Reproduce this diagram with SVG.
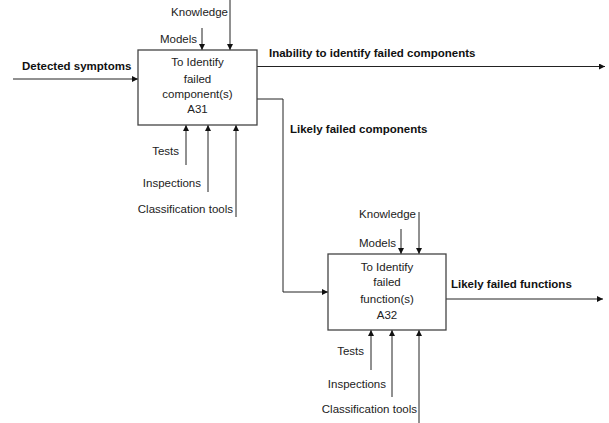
<svg xmlns="http://www.w3.org/2000/svg" width="609" height="423" viewBox="0 0 609 423">
<defs>
<marker id="ah" markerWidth="6" markerHeight="6" refX="6" refY="3" orient="auto" markerUnits="userSpaceOnUse">
<path d="M0,0 L6,3 L0,6 Z" fill="#111"/>
</marker>
</defs>
<style>
.box{fill:#fff;stroke:#444;stroke-width:1.3}
.t{font-family:"Liberation Sans",Arial,sans-serif;font-size:11.5px;fill:#222}
.b{font-family:"Liberation Sans",Arial,sans-serif;font-size:11.5px;font-weight:bold;fill:#111}
.c{text-anchor:middle}
.e{text-anchor:end}
.ln{fill:none;stroke:#222;stroke-width:1}
.la{fill:none;stroke:#222;stroke-width:1;marker-end:url(#ah)}
</style>
<rect width="609" height="423" fill="#fff"/>
<g id="connectors">
<line class="la" x1="13" y1="79" x2="138" y2="79"/>
<line class="la" x1="230" y1="0" x2="230" y2="50"/>
<line class="la" x1="202" y1="28" x2="202" y2="50"/>
<line class="la" x1="186" y1="165" x2="186" y2="125"/>
<line class="la" x1="208" y1="192" x2="208" y2="125"/>
<line class="la" x1="236" y1="217" x2="236" y2="125"/>
<line class="la" x1="257" y1="66.5" x2="605" y2="66.5"/>
<polyline class="la" points="257,99 283,99 283,292 328,292"/>
<line class="la" x1="419" y1="212" x2="419" y2="254"/>
<line class="la" x1="401" y1="229" x2="401" y2="254"/>
<line class="la" x1="371" y1="370" x2="371" y2="330"/>
<line class="la" x1="392" y1="397" x2="392" y2="330"/>
<line class="la" x1="419" y1="423" x2="419" y2="330"/>
<line class="la" x1="446" y1="299" x2="603" y2="299"/>
</g>
<g id="labels">
<text class="b" x="22" y="70">Detected symptoms</text>
<text class="t e" x="228" y="16">Knowledge</text>
<text class="t e" x="197" y="43">Models</text>
<text class="t e" x="179" y="155">Tests</text>
<text class="t e" x="201" y="187">Inspections</text>
<text class="t e" x="233" y="213">Classification tools</text>
<text class="b" x="269" y="57">Inability to identify failed components</text>
<text class="b" x="290" y="133">Likely failed components</text>
<text class="t e" x="416" y="218">Knowledge</text>
<text class="t e" x="396" y="247">Models</text>
<text class="t e" x="364" y="355">Tests</text>
<text class="t e" x="386" y="388">Inspections</text>
<text class="t e" x="417" y="413">Classification tools</text>
<text class="b" x="451" y="288">Likely failed functions</text>
</g>
<g id="A31">
<rect class="box" x="138" y="50" width="119" height="75"/>
<text class="t c" x="197.5" y="66">To Identify</text>
<text class="t c" x="197.5" y="83">failed</text>
<text class="t c" x="197.5" y="98">component(s)</text>
<text class="t c" x="197.5" y="113">A31</text>
</g>
<g id="A32">
<rect class="box" x="328" y="254" width="118" height="76"/>
<text class="t c" x="387" y="271">To Identify</text>
<text class="t c" x="387" y="286">failed</text>
<text class="t c" x="387" y="303">function(s)</text>
<text class="t c" x="387" y="319">A32</text>
</g>
</svg>
